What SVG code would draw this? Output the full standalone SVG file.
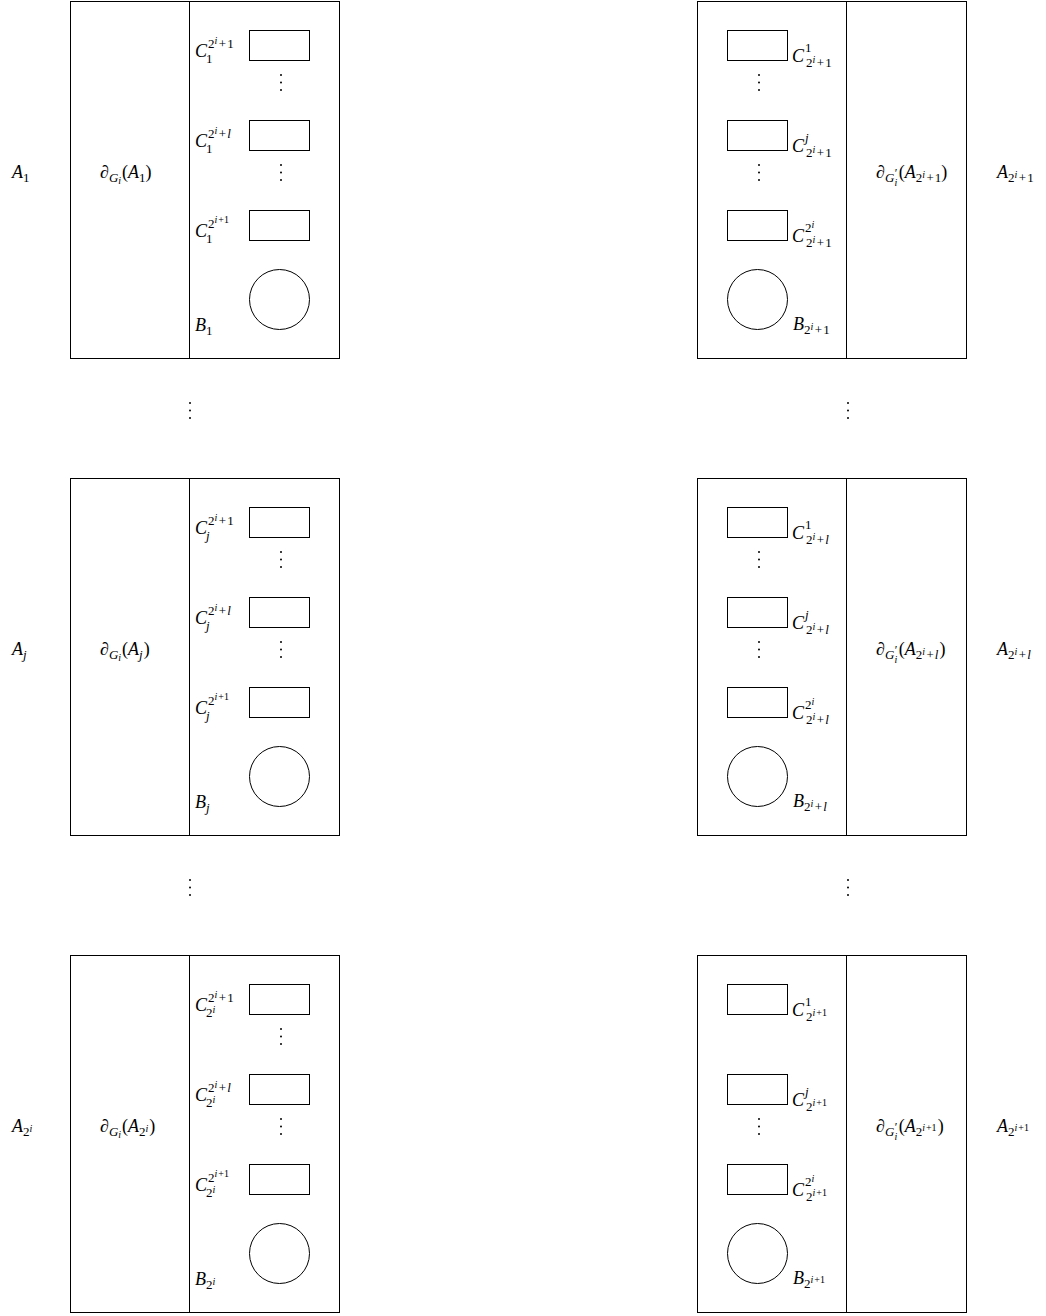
<svg xmlns="http://www.w3.org/2000/svg" width="1046" height="1316" viewBox="0 0 1046 1316">
<style>
.fr{fill:none;stroke:#000;stroke-width:1}
.dv{stroke:#000;stroke-width:1}
.bx{fill:#fff;stroke:#000;stroke-width:1}
.dt{fill:#000}
.m{font-family:"Liberation Serif","Times New Roman",serif;font-size:18px;font-style:italic;fill:#000}
.u{font-style:normal}
.s{font-size:13px}
.ss{font-size:10px}
.pr{font-size:12px;font-style:normal}
</style>
<defs>
<g id="vd"><circle class="dt" cx="0" cy="0" r="1"/><circle class="dt" cx="0" cy="7.5" r="1"/><circle class="dt" cx="0" cy="15" r="1"/></g>
<g id="leftShapes">
<rect class="fr" x="70.5" y="1.5" width="269" height="357"/>
<line class="dv" x1="189.5" y1="1.5" x2="189.5" y2="358.5"/>
<rect class="bx" x="249.5" y="30.5" width="60" height="30"/>
<rect class="bx" x="249.5" y="120.5" width="60" height="30"/>
<rect class="bx" x="249.5" y="210.5" width="60" height="30"/>
<circle class="bx" cx="279.5" cy="299.5" r="30"/>
</g>
<g id="rightShapes">
<rect class="fr" x="697.5" y="1.5" width="269" height="357"/>
<line class="dv" x1="846.5" y1="1.5" x2="846.5" y2="358.5"/>
<rect class="bx" x="727.5" y="30.5" width="60" height="30"/>
<rect class="bx" x="727.5" y="120.5" width="60" height="30"/>
<rect class="bx" x="727.5" y="210.5" width="60" height="30"/>
<circle class="bx" cx="757.5" cy="299.5" r="30"/>
</g>
</defs>

<g id="connectors"></g>

<!-- Left column, block 1 -->
<g id="block-A1">
<use href="#leftShapes"/>
<use href="#vd" x="281" y="75"/>
<use href="#vd" x="281" y="165"/>
<text class="m" x="12" y="178">A<tspan class="s u" dy="4">1</tspan></text>
<text class="m" x="100" y="178">∂<tspan class="s" dy="4">G</tspan><tspan class="ss" dy="2">i</tspan><tspan class="u" dx="1" dy="-6">(</tspan>A<tspan class="s u" dy="4">1</tspan><tspan class="u" dy="-4">)</tspan></text>
<text class="m" x="195" y="57">C<tspan class="s u" dx="1" dy="-9">2</tspan><tspan class="ss" dy="-4">i</tspan><tspan class="s u" dx="1.5" dy="4">+</tspan><tspan class="s u" dx="1">1</tspan><tspan class="s u" x="206" dy="15">1</tspan></text>
<text class="m" x="195" y="147">C<tspan class="s u" dx="1" dy="-9">2</tspan><tspan class="ss" dy="-4">i</tspan><tspan class="s u" dx="1.5" dy="4">+</tspan><tspan class="s" dx="1">l</tspan><tspan class="s u" x="206" dy="15">1</tspan></text>
<text class="m" x="195" y="237">C<tspan class="s u" dx="1" dy="-9">2</tspan><tspan class="ss" dy="-5">i</tspan><tspan class="ss u" dx="1">+1</tspan><tspan class="s u" x="206" dy="20">1</tspan></text>
<text class="m" x="195" y="331">B<tspan class="s u" dy="4">1</tspan></text>
</g>

<!-- Left column, block j -->
<g id="block-Aj" transform="translate(0,477)">
<use href="#leftShapes"/>
<use href="#vd" x="281" y="75"/>
<use href="#vd" x="281" y="165"/>
<text class="m" x="12" y="178">A<tspan class="s" dy="4">j</tspan></text>
<text class="m" x="100" y="178">∂<tspan class="s" dy="4">G</tspan><tspan class="ss" dy="2">i</tspan><tspan class="u" dx="1" dy="-6">(</tspan>A<tspan class="s" dy="4">j</tspan><tspan class="u" dx="1" dy="-4">)</tspan></text>
<text class="m" x="195" y="57">C<tspan class="s u" dx="1" dy="-9">2</tspan><tspan class="ss" dy="-4">i</tspan><tspan class="s u" dx="1.5" dy="4">+</tspan><tspan class="s u" dx="1">1</tspan><tspan class="s" x="206" dy="15">j</tspan></text>
<text class="m" x="195" y="147">C<tspan class="s u" dx="1" dy="-9">2</tspan><tspan class="ss" dy="-4">i</tspan><tspan class="s u" dx="1.5" dy="4">+</tspan><tspan class="s" dx="1">l</tspan><tspan class="s" x="206" dy="15">j</tspan></text>
<text class="m" x="195" y="237">C<tspan class="s u" dx="1" dy="-9">2</tspan><tspan class="ss" dy="-5">i</tspan><tspan class="ss u" dx="1">+1</tspan><tspan class="s" x="206" dy="20">j</tspan></text>
<text class="m" x="195" y="331">B<tspan class="s" dy="4">j</tspan></text>
</g>

<!-- Left column, block 2^i -->
<g id="block-A2i" transform="translate(0,954)">
<use href="#leftShapes"/>
<use href="#vd" x="281" y="75"/>
<use href="#vd" x="281" y="165"/>
<text class="m" x="12" y="178">A<tspan class="s u" dy="4">2</tspan><tspan class="ss" dy="-4">i</tspan></text>
<text class="m" x="100" y="178">∂<tspan class="s" dy="4">G</tspan><tspan class="ss" dy="2">i</tspan><tspan class="u" dx="1" dy="-6">(</tspan>A<tspan class="s u" dy="4">2</tspan><tspan class="ss" dy="-4">i</tspan><tspan class="u" dx="1" dy="0">)</tspan></text>
<text class="m" x="195" y="57">C<tspan class="s u" dx="1" dy="-9">2</tspan><tspan class="ss" dy="-4">i</tspan><tspan class="s u" dx="1.5" dy="4">+</tspan><tspan class="s u" dx="1">1</tspan><tspan class="s u" x="206" dy="15">2</tspan><tspan class="ss" dy="-4">i</tspan></text>
<text class="m" x="195" y="147">C<tspan class="s u" dx="1" dy="-9">2</tspan><tspan class="ss" dy="-4">i</tspan><tspan class="s u" dx="1.5" dy="4">+</tspan><tspan class="s" dx="1">l</tspan><tspan class="s u" x="206" dy="15">2</tspan><tspan class="ss" dy="-4">i</tspan></text>
<text class="m" x="195" y="237">C<tspan class="s u" dx="1" dy="-9">2</tspan><tspan class="ss" dy="-5">i</tspan><tspan class="ss u" dx="1">+1</tspan><tspan class="s u" x="206" dy="20">2</tspan><tspan class="ss" dy="-4">i</tspan></text>
<text class="m" x="195" y="331">B<tspan class="s u" dy="4">2</tspan><tspan class="ss" dy="-4">i</tspan></text>
</g>

<!-- Right column, block 2^i+1 -->
<g id="block-A2i1">
<use href="#rightShapes"/>
<use href="#vd" x="759" y="75"/>
<use href="#vd" x="759" y="165"/>
<text class="m" x="792" y="62">C<tspan class="s u" dx="1" dy="-10">1</tspan><tspan class="s u" x="806" dy="15">2</tspan><tspan class="ss" dy="-4">i</tspan><tspan class="s u" dx="1.5" dy="4">+</tspan><tspan class="s u" dx="1">1</tspan></text>
<text class="m" x="792" y="152">C<tspan class="s" dx="1" dy="-10">j</tspan><tspan class="s u" x="806" dy="15">2</tspan><tspan class="ss" dy="-4">i</tspan><tspan class="s u" dx="1.5" dy="4">+</tspan><tspan class="s u" dx="1">1</tspan></text>
<text class="m" x="792" y="242">C<tspan class="s u" dx="1" dy="-10">2</tspan><tspan class="ss" dy="-4">i</tspan><tspan class="s u" x="806" dy="19">2</tspan><tspan class="ss" dy="-4">i</tspan><tspan class="s u" dx="1.5" dy="4">+</tspan><tspan class="s u" dx="1">1</tspan></text>
<text class="m" x="793" y="330">B<tspan class="s u" dy="4">2</tspan><tspan class="ss" dy="-4">i</tspan><tspan class="s u" dx="1.5" dy="4">+</tspan><tspan class="s u" dx="1">1</tspan></text>
<text class="m" x="876" y="178">∂<tspan class="s" dy="4">G</tspan><tspan class="pr" dx="0.5" dy="-5">′</tspan><tspan class="ss" dx="-3" dy="9">i</tspan><tspan class="u" dx="1.5" dy="-8">(</tspan>A<tspan class="s u" dy="4">2</tspan><tspan class="ss" dy="-4">i</tspan><tspan class="s u" dx="1.5" dy="4">+</tspan><tspan class="s u" dx="1">1</tspan><tspan class="u" dy="-4">)</tspan></text>
<text class="m" x="997" y="178">A<tspan class="s u" dy="4">2</tspan><tspan class="ss" dy="-4">i</tspan><tspan class="s u" dx="1.5" dy="4">+</tspan><tspan class="s u" dx="1">1</tspan></text>
</g>

<!-- Right column, block 2^i+l -->
<g id="block-A2il" transform="translate(0,477)">
<use href="#rightShapes"/>
<use href="#vd" x="759" y="75"/>
<use href="#vd" x="759" y="165"/>
<text class="m" x="792" y="62">C<tspan class="s u" dx="1" dy="-10">1</tspan><tspan class="s u" x="806" dy="15">2</tspan><tspan class="ss" dy="-4">i</tspan><tspan class="s u" dx="1.5" dy="4">+</tspan><tspan class="s" dx="1">l</tspan></text>
<text class="m" x="792" y="152">C<tspan class="s" dx="1" dy="-10">j</tspan><tspan class="s u" x="806" dy="15">2</tspan><tspan class="ss" dy="-4">i</tspan><tspan class="s u" dx="1.5" dy="4">+</tspan><tspan class="s" dx="1">l</tspan></text>
<text class="m" x="792" y="242">C<tspan class="s u" dx="1" dy="-10">2</tspan><tspan class="ss" dy="-4">i</tspan><tspan class="s u" x="806" dy="19">2</tspan><tspan class="ss" dy="-4">i</tspan><tspan class="s u" dx="1.5" dy="4">+</tspan><tspan class="s" dx="1">l</tspan></text>
<text class="m" x="793" y="330">B<tspan class="s u" dy="4">2</tspan><tspan class="ss" dy="-4">i</tspan><tspan class="s u" dx="1.5" dy="4">+</tspan><tspan class="s" dx="1">l</tspan></text>
<text class="m" x="876" y="178">∂<tspan class="s" dy="4">G</tspan><tspan class="pr" dx="0.5" dy="-5">′</tspan><tspan class="ss" dx="-3" dy="9">i</tspan><tspan class="u" dx="1.5" dy="-8">(</tspan>A<tspan class="s u" dy="4">2</tspan><tspan class="ss" dy="-4">i</tspan><tspan class="s u" dx="1.5" dy="4">+</tspan><tspan class="s" dx="1">l</tspan><tspan class="u" dx="1" dy="-4">)</tspan></text>
<text class="m" x="997" y="178">A<tspan class="s u" dy="4">2</tspan><tspan class="ss" dy="-4">i</tspan><tspan class="s u" dx="1.5" dy="4">+</tspan><tspan class="s" dx="1">l</tspan></text>
</g>

<!-- Right column, block 2^(i+1) -->
<g id="block-A2ip1" transform="translate(0,954)">
<use href="#rightShapes"/>
<use href="#vd" x="759" y="165"/>
<text class="m" x="792" y="62">C<tspan class="s u" dx="1" dy="-10">1</tspan><tspan class="s u" x="806" dy="15">2</tspan><tspan class="ss" dy="-5">i</tspan><tspan class="ss u" dx="1">+1</tspan></text>
<text class="m" x="792" y="152">C<tspan class="s" dx="1" dy="-10">j</tspan><tspan class="s u" x="806" dy="15">2</tspan><tspan class="ss" dy="-5">i</tspan><tspan class="ss u" dx="1">+1</tspan></text>
<text class="m" x="792" y="242">C<tspan class="s u" dx="1" dy="-10">2</tspan><tspan class="ss" dy="-4">i</tspan><tspan class="s u" x="806" dy="19">2</tspan><tspan class="ss" dy="-5">i</tspan><tspan class="ss u" dx="1">+1</tspan></text>
<text class="m" x="793" y="330">B<tspan class="s u" dy="4">2</tspan><tspan class="ss" dy="-5">i</tspan><tspan class="ss u" dx="1">+1</tspan></text>
<text class="m" x="876" y="178">∂<tspan class="s" dy="4">G</tspan><tspan class="pr" dx="0.5" dy="-5">′</tspan><tspan class="ss" dx="-3" dy="9">i</tspan><tspan class="u" dx="1.5" dy="-8">(</tspan>A<tspan class="s u" dy="4">2</tspan><tspan class="ss" dy="-5">i</tspan><tspan class="ss u" dx="1">+1</tspan><tspan class="u" dx="1" dy="1">)</tspan></text>
<text class="m" x="997" y="178">A<tspan class="s u" dy="4">2</tspan><tspan class="ss" dy="-5">i</tspan><tspan class="ss u" dx="1">+1</tspan></text>
</g>

<!-- Ellipses between blocks -->
<g id="vdots-left-1"><use href="#vd" x="190" y="403"/></g>
<g id="vdots-left-2"><use href="#vd" x="190" y="880"/></g>
<g id="vdots-right-1"><use href="#vd" x="848" y="403"/></g>
<g id="vdots-right-2"><use href="#vd" x="848" y="880"/></g>
</svg>
